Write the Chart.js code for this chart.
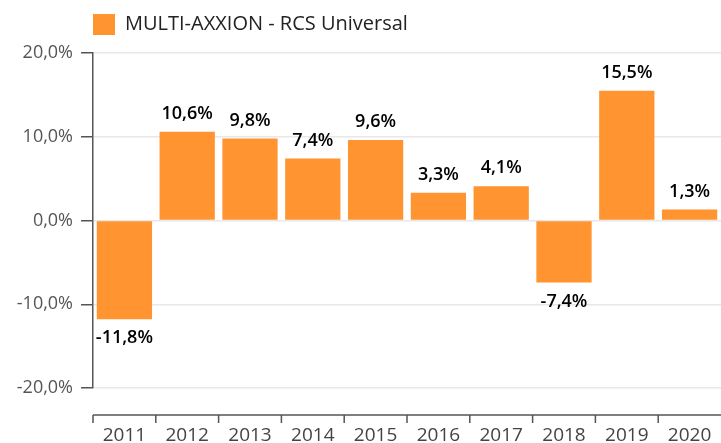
<!DOCTYPE html>
<html>
<head>
<meta charset="utf-8">
<script src="https://cdn.jsdelivr.net/npm/chart.js@4.4.0/dist/chart.umd.min.js"></script>
<style>
    html, body { margin: 0; padding: 0; background: #fff; }
    #wrap { width: 721px; height: 443px; }
</style>
</head>
<body>
<div id="wrap"><canvas id="myChart" width="721" height="443"></canvas></div>
<script>
var years = ['2011', '2012', '2013', '2014', '2015', '2016', '2017', '2018', '2019', '2020'];
var returns = [-11.8, 10.6, 9.8, 7.4, 9.6, 3.3, 4.1, -7.4, 15.5, 1.3];
var yTicks = [-20, -10, 0, 10, 20];
var seriesName = 'MULTI-AXXION - RCS Universal';

function fmtPct(v) {
    return v.toFixed(1).replace('.', ',') + '%';
}

// value labels above / below the bars
var barLabels = {
    id: 'barLabels',
    afterDatasetsDraw: function (chart) {
        var ctx = chart.ctx;
        var meta = chart.getDatasetMeta(0);
        ctx.save();
        ctx.font = '600 18px "Open Sans"';
        ctx.fillStyle = '#000';
        ctx.textAlign = 'center';
        ctx.textBaseline = 'middle';
        meta.data.forEach(function (bar, i) {
            var v = returns[i];
            var y = v >= 0 ? bar.y - 18 : bar.y + 19;
            ctx.fillText(fmtPct(v), bar.x, y);
        });
        ctx.restore();
    }
};

// x axis drawn a bit below the plot, like the original
var offsetXAxis = {
    id: 'offsetXAxis',
    afterInit: function (chart) {
        // a bit more room between legend and plot
        var lg = chart.legend;
        var fit = lg.fit;
        lg.fit = function () {
            fit.call(this);
            this.height += 8;
        };
    },
    afterLayout: function (chart) {
        // legend starts at the plot's left edge
        chart.legend.left = chart.chartArea.left - 10;
    },
    afterDraw: function (chart) {
        var ctx = chart.ctx;
        var xs = chart.scales.x;
        var y = chart.chartArea.bottom + 27;
        ctx.save();
        ctx.strokeStyle = '#555';
        ctx.lineWidth = 1.5;
        ctx.beginPath();
        ctx.moveTo(xs.left, y);
        ctx.lineTo(xs.right, y);
        var step = (xs.right - xs.left) / years.length;
        for (var i = 0; i < years.length; i++) {
            var tx = xs.getPixelForValue(i) - step / 2;
            ctx.moveTo(tx, y);
            ctx.lineTo(tx, y + 8);
        }
        ctx.stroke();
        ctx.restore();
    }
};

var ctx1 = document.getElementById('myChart').getContext('2d');
new Chart(ctx1, {
    type: 'bar',
    data: {
        labels: years,
        datasets: [{
            label: seriesName,
            data: returns,
            backgroundColor: '#ff9430',
            borderWidth: 0,
            categoryPercentage: 1.0,
            barPercentage: 0.88
        }]
    },
    options: {
        responsive: false,
        animation: false,
        layout: { padding: { left: 0, right: 0, top: 4, bottom: 0 } },
        plugins: {
            legend: {
                align: 'start',
                labels: {
                    boxWidth: 22,
                    boxHeight: 21,
                    padding: 10,
                    color: '#222',
                    font: { family: 'Open Sans', size: 20 }
                }
            },
            tooltip: { enabled: false }
        },
        scales: {
            x: {
                grid: { display: true, drawOnChartArea: false, tickLength: 34, tickColor: 'rgba(0,0,0,0)' },
                border: { display: false },
                ticks: {
                    color: '#444',
                    padding: 2,
                    font: { family: 'Open Sans', size: 19 }
                },
                afterFit: function (scale) { scale.height = 55; }
            },
            y: {
                min: -20,
                max: 20,
                afterBuildTicks: function (scale) {
                    scale.ticks = yTicks.map(function (v) { return { value: v }; });
                },
                grid: { color: '#e8e8e8', lineWidth: 1.5, tickColor: '#555', tickLength: 12 },
                border: { color: '#555', width: 1.5 },
                ticks: {
                    color: '#555',
                    padding: 8,
                    font: { family: 'Open Sans', size: 18 },
                    callback: function (v) { return fmtPct(v); }
                },
                afterFit: function (scale) { scale.width = 93; }
            }
        }
    },
    plugins: [barLabels, offsetXAxis]
});
</script>
</body>
</html>
